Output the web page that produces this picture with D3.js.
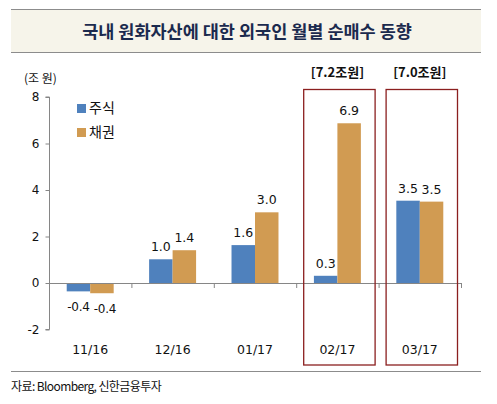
<!DOCTYPE html>
<html><head><meta charset="utf-8">
<script src="https://cdn.jsdelivr.net/npm/d3@7"></script>
<style>body{margin:0;background:#fff}svg{display:block}</style>
</head><body>
<svg id="c" width="497" height="404"></svg>
<script>
const categories = ["11/16", "12/16", "01/17", "02/17", "03/17"];
const seriesNames = ["주식", "채권"];
const stockValues = [-0.36, 1.02, 1.63, 0.31, 3.54];
const bondValues = [-0.44, 1.41, 3.04, 6.87, 3.50];
const yTicks = [-2, 0, 2, 4, 6, 8];
const highlighted = ["02/17", "03/17"];
const highlightLabels = ["[7.2조원]", "[7.0조원]"];
const titleText = "국내 원화자산에 대한 외국인 월별 순매수 동향";
const unitText = "(조 원)";
const sourceText = "자료: Bloomberg, 신한금융투자";

const colors = ["#4f81bd", "#d19b52"];
const svg = d3.select("#c");
const sans = "'Noto Sans CJK KR', 'Noto Sans', sans-serif";
const num = "'DejaVu Sans', Verdana, sans-serif";
const hy = f => v => f(v).replace("\u2212", "-");

// title band
svg.append("rect").attr("x", 11).attr("y", 9).attr("width", 470).attr("height", 43).attr("fill", "#f6f4ea");
svg.append("line").attr("x1", 11).attr("x2", 481).attr("y1", 9.5).attr("y2", 9.5).attr("stroke", "#8c8c8c");
svg.append("line").attr("x1", 11).attr("x2", 481).attr("y1", 52.5).attr("y2", 52.5).attr("stroke", "#8c8c8c");
svg.append("text").attr("x", 247).attr("y", 38).attr("text-anchor", "middle")
  .attr("font-family", sans).attr("font-weight", "bold").attr("font-size", 17.5)
  .attr("fill", "#1b2a4e").text(titleText);

const x0 = d3.scaleBand().domain(categories).range([49, 461]).paddingInner(0.43).paddingOuter(0.215);
const x1 = d3.scaleBand().domain(seriesNames).range([0, x0.bandwidth()]);
const y = d3.scaleLinear().domain([-2, 8]).range([329.5, 97]);

const data = categories.map((c, i) => ({cat: c, vals: [stockValues[i], bondValues[i]]}));

// y axis
const yAxis = svg.append("g").attr("transform", "translate(49.5,0)")
  .call(d3.axisLeft(y).tickValues(yTicks).tickSize(4).tickPadding(6).tickFormat(hy(d3.format("d"))));
yAxis.select(".domain").attr("stroke", "#868686").attr("d", `M-4,${y(-2)}H0V${y(8)}H-4`);
yAxis.selectAll(".tick line").attr("stroke", "#868686");
yAxis.selectAll(".tick text").attr("font-family", num).attr("font-size", 12).attr("fill", "#111");

// bars
const g = svg.append("g");
data.forEach(d => {
  d.vals.forEach((v, k) => {
    g.append("rect")
      .attr("x", x0(d.cat) + x1(seriesNames[k]))
      .attr("width", x1.bandwidth())
      .attr("y", Math.min(y(v), y(0)))
      .attr("height", Math.abs(y(v) - y(0)))
      .attr("fill", colors[k]);
  });
});

// x axis line at zero
const xStep = x0.step();
const bandEdges = categories.map((c, i) => 49 + i * xStep).concat([461]);
svg.append("line").attr("x1", 49).attr("x2", 461).attr("y1", y(0) + 0.5).attr("y2", y(0) + 0.5).attr("stroke", "#868686");
bandEdges.slice(1).forEach(e => {
  svg.append("line").attr("x1", e + 0.5).attr("x2", e + 0.5).attr("y1", y(0)).attr("y2", y(0) + 5).attr("stroke", "#868686");
});

// value labels
const fmt = hy(d3.format(".1f"));
data.forEach(d => {
  d.vals.forEach((v, k) => {
    const cx = x0(d.cat) + x1(seriesNames[k]) + x1.bandwidth() / 2;
    g.append("text").attr("x", cx + (v < 0 ? (k === 0 ? 0 : 3) : 0))
      .attr("y", v >= 0 ? y(v) - 8 : y(v) + 20)
      .attr("text-anchor", "middle").attr("font-family", num).attr("font-size", v < 0 ? 12 : 12.5)
      .attr("letter-spacing", v < 0 ? -0.3 : 0).attr("fill", "#111")
      .text(fmt(v));
  });
});

// category labels
categories.forEach(c => {
  svg.append("text").attr("x", x0(c) + x0.bandwidth() / 2).attr("y", 354)
    .attr("text-anchor", "middle").attr("font-family", num).attr("font-size", 12.5).attr("fill", "#111").text(c);
});

// legend
seriesNames.forEach((s, i) => {
  const ly = 104 + i * 24;
  svg.append("rect").attr("x", 77).attr("y", ly).attr("width", 9).attr("height", 9).attr("fill", colors[i]);
  svg.append("text").attr("x", 89).attr("y", ly + 9).attr("font-family", sans).attr("font-size", 14).attr("fill", "#111").text(s);
});

// unit
svg.append("text").attr("x", 24).attr("y", 83).attr("font-family", sans).attr("font-size", 12).attr("fill", "#111").text(unitText);

// highlight boxes
highlighted.forEach((c, i) => {
  const bx = x0(c) - (xStep - x0.bandwidth()) / 2 + 7;
  svg.append("rect").attr("x", bx + 0.5).attr("y", 89.5).attr("width", xStep - 11).attr("height", 275.5)
    .attr("fill", "none").attr("stroke", "#8b1f1f").attr("stroke-width", 1.3);
  svg.append("text").attr("x", x0(c) + x0.bandwidth() / 2).attr("y", 77)
    .attr("text-anchor", "middle").attr("font-family", sans).attr("font-weight", "bold").attr("font-size", 13)
    .attr("fill", "#111").text(highlightLabels[i]);
});

// bottom rule and source
svg.append("line").attr("x1", 11).attr("x2", 481).attr("y1", 371.5).attr("y2", 371.5).attr("stroke", "#8c8c8c");
svg.append("text").attr("x", 11).attr("y", 391).attr("font-family", sans).attr("font-size", 12)
  .attr("letter-spacing", -0.6).attr("fill", "#111").text(sourceText);
</script>
</body></html>
